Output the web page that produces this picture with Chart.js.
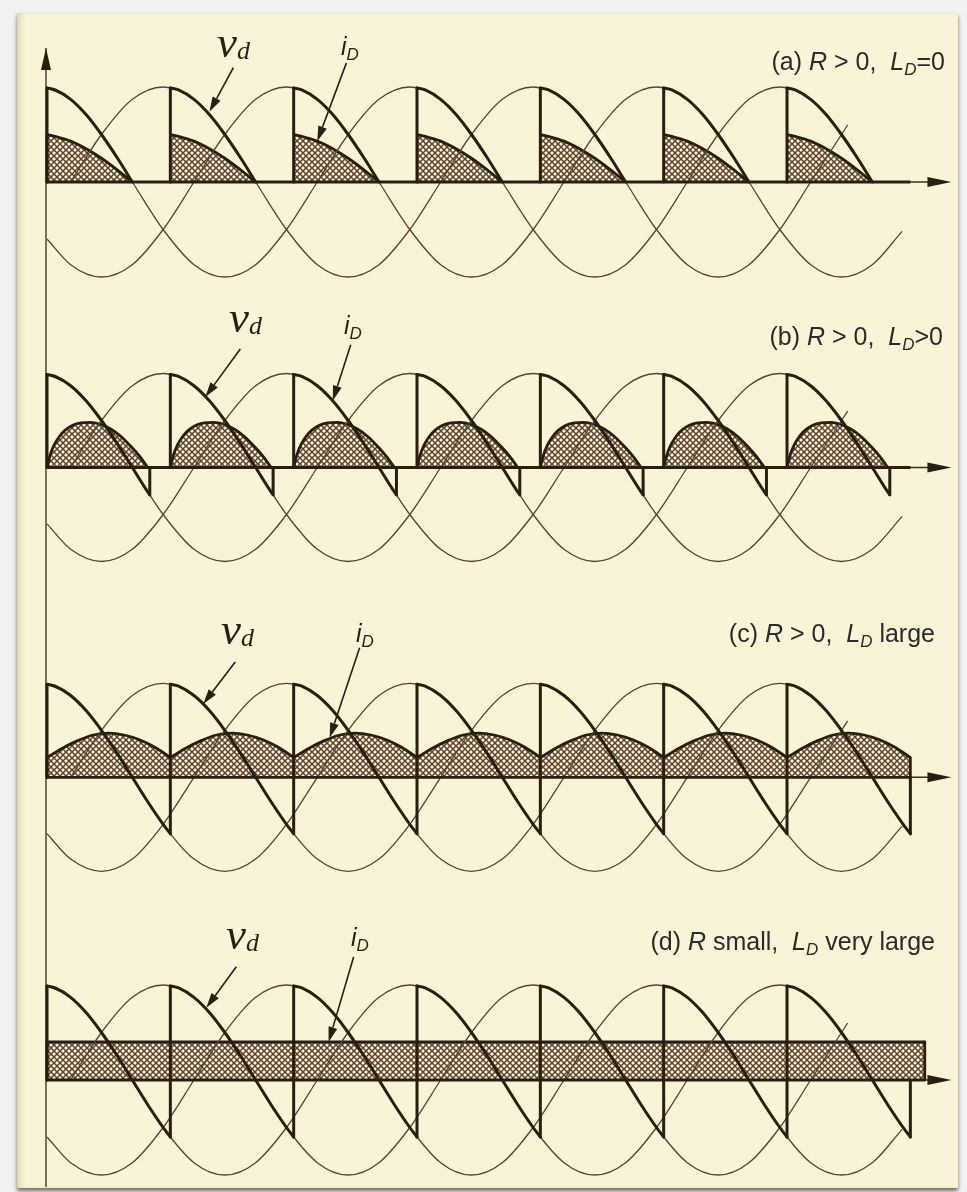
<!DOCTYPE html>
<html>
<head>
<meta charset="utf-8">
<title>Rectifier output voltage and current</title>
<script src="https://cdn.jsdelivr.net/npm/chart.js@4.4.1/dist/chart.umd.min.js"></script>
<style>
  html, body { margin: 0; padding: 0; background: #fff; }
  #page { position: relative; width: 967px; height: 1192px; overflow: hidden; background: #f2f2f2; }
  #frame {
    position: absolute; left: 17px; top: 13px; width: 941px; height: 1175px;
    background: #f9f3d8;
    box-shadow: 0 3px 4px rgba(0, 0, 0, .55), inset 5px 0 6px -3px rgba(140, 130, 70, .35);
  }
  canvas.panel { position: absolute; left: 0; }
  .lbl { position: absolute; white-space: nowrap; line-height: 1; color: #2b2b2b; }
  .case { font-family: "Liberation Sans", Arial, sans-serif; font-size: 25px; }
  .case i { font-style: italic; }
  .case sub { font-size: 17px; font-style: italic; vertical-align: -5px; line-height: 1; }
  .vd { font-family: "Liberation Serif", "Times New Roman", serif; font-style: italic; font-size: 45px; color: #2a1f16; }
  .vd sub { font-size: 26px; vertical-align: -2px; line-height: 1; }
  .id { font-family: "Liberation Sans", Arial, sans-serif; font-style: italic; font-size: 25px; color: #2a1f16; }
  .id sub { font-size: 17px; vertical-align: -5px; line-height: 1; }
</style>
</head>
<body>
<div id="page">
  <div id="frame"></div>
  <canvas id="pa" class="panel" width="967" height="320" style="top:0px"></canvas>
  <canvas id="pb" class="panel" width="967" height="300" style="top:320px"></canvas>
  <canvas id="pc" class="panel" width="967" height="305" style="top:620px"></canvas>
  <canvas id="pd" class="panel" width="967" height="267" style="top:925px"></canvas>

  <div class="lbl vd" style="left:217px; top:20px">v<sub>d</sub></div>
  <div class="lbl id" style="left:341px; top:34px">i<sub>D</sub></div>
  <div class="lbl case" style="right:22px; top:49px">(a) <i>R</i> &gt; 0,&nbsp; <i>L</i><sub>D</sub>=0</div>

  <div class="lbl vd" style="left:229px; top:295px">v<sub>d</sub></div>
  <div class="lbl id" style="left:344px; top:313px">i<sub>D</sub></div>
  <div class="lbl case" style="right:24px; top:324px">(b) <i>R</i> &gt; 0,&nbsp; <i>L</i><sub>D</sub>&gt;0</div>

  <div class="lbl vd" style="left:221px; top:607px">v<sub>d</sub></div>
  <div class="lbl id" style="left:356px; top:621px">i<sub>D</sub></div>
  <div class="lbl case" style="right:32px; top:621px">(c) <i>R</i> &gt; 0,&nbsp; <i>L</i><sub>D</sub> large</div>

  <div class="lbl vd" style="left:226px; top:912px">v<sub>d</sub></div>
  <div class="lbl id" style="left:351px; top:925px">i<sub>D</sub></div>
  <div class="lbl case" style="right:32px; top:929px">(d) <i>R</i> small,&nbsp; <i>L</i><sub>D</sub> very large</div>
</div>

<script>
// angles in electrical degrees, measured from the first firing instant
const firing = [0, 120, 240, 360, 480, 600, 720];

// the three supply phases as [angle, value], value in units of the crest
const phaseA = [[0, 0.99], [23, 0.87], [53, 0.5], [83, 0], [113, -0.5], [143, -0.87], [173, -1],
  [203, -0.87], [233, -0.5], [263, 0], [293, 0.5], [323, 0.87], [353, 1], [383, 0.87], [413, 0.5],
  [443, 0], [473, -0.5], [503, -0.87], [533, -1], [563, -0.87], [593, -0.5], [623, 0], [653, 0.5],
  [683, 0.87], [713, 1], [743, 0.87], [773, 0.5], [803, 0]];
const phaseB = [[23, 0], [53, 0.5], [83, 0.87], [113, 1], [143, 0.87], [173, 0.5], [203, 0],
  [233, -0.5], [263, -0.87], [293, -1], [323, -0.87], [353, -0.5], [383, 0], [413, 0.5], [443, 0.87],
  [473, 1], [503, 0.87], [533, 0.5], [563, 0], [593, -0.5], [623, -0.87], [653, -1], [683, -0.87],
  [713, -0.5], [743, 0], [773, 0.5], [779, 0.6]];
const phaseC = [[0, -0.6], [23, -0.87], [53, -1], [83, -0.87], [113, -0.5], [143, 0], [173, 0.5],
  [203, 0.87], [233, 1], [263, 0.87], [293, 0.5], [323, 0], [353, -0.5], [383, -0.87], [413, -1],
  [443, -0.87], [473, -0.5], [503, 0], [533, 0.5], [563, 0.87], [593, 1], [623, 0.87], [653, 0.5],
  [683, 0], [713, -0.5], [743, -0.87], [773, -1], [803, -0.87], [832, -0.52]];

// v_d over one conduction interval, angle counted from its firing instant
const vdA = [[0, 0.99], [8, 0.97], [23, 0.87], [38, 0.71], [53, 0.5], [68, 0.26], [83, 0]];
const vdB = [[0, 0.99], [8, 0.97], [23, 0.87], [38, 0.71], [53, 0.5], [68, 0.26], [83, 0], [98, -0.26], [100, -0.29]];
const vdC = [[0, 0.99], [8, 0.97], [23, 0.87], [38, 0.71], [53, 0.5], [68, 0.26], [83, 0], [98, -0.26], [113, -0.5], [120, -0.6]];

// diode current over one interval
const idA = [[0, 0.5], [8, 0.48], [23, 0.43], [38, 0.35], [53, 0.25], [68, 0.13], [83, 0]];
const idB = [[0, 0], [3, 0.13], [7, 0.24], [12, 0.33], [18, 0.4], [25, 0.45], [33, 0.475], [42, 0.48],
  [52, 0.46], [62, 0.41], [72, 0.33], [82, 0.22], [90, 0.12], [98, 0]];
const idC = [[0, 0.21], [15, 0.31], [30, 0.39], [45, 0.45], [60, 0.47], [75, 0.45], [90, 0.4], [105, 0.32], [120, 0.21]];
// (d): current stays flat for the whole run
const idD = [[0, 0.4], [854, 0.4]];

// where the heavy zero line stops in each case
const baseEnd = { a: 840, b: 840, c: 840, d: 854 };

const INK = '#2a1d12';
const THIN = '#544532';

function hatch() {
  const c = document.createElement('canvas');
  c.width = 6; c.height = 6;
  const g = c.getContext('2d');
  g.fillStyle = '#faf0d6';
  g.fillRect(0, 0, 6, 6);
  g.strokeStyle = '#5a4431';
  g.lineWidth = 1.5;
  g.beginPath();
  g.moveTo(-1, -1); g.lineTo(7, 7);
  g.moveTo(7, -1); g.lineTo(-1, 7);
  g.stroke();
  return g.createPattern(c, 'repeat');
}

const pts = arr => arr.map(([x, y]) => ({ x, y }));
const gap = x => ({ x, y: null });

// repeat a one-interval shape at every firing instant, splitting with gaps
function perFiring(shape) {
  const out = [];
  firing.forEach(f => {
    shape.forEach(([t, v]) => out.push({ x: f + t, y: v }));
    out.push(gap(f + shape[shape.length - 1][0]));
  });
  return out;
}

// straight pieces of v_d: commutation jumps, drops to zero, and the closing edge
function vdStraights(shape) {
  const out = [];
  const last = shape[shape.length - 1];
  const stopsEarly = last[0] < 120;
  firing.forEach((f, i) => {
    const from = (i === 0 || stopsEarly) ? 0 : last[1];
    out.push({ x: f, y: from }, { x: f, y: shape[0][1] }, gap(f));
    if (stopsEarly && last[1] !== 0) {
      out.push({ x: f + last[0], y: last[1] }, { x: f + last[0], y: 0 }, gap(f + last[0]));
    }
  });
  if (!stopsEarly) {
    const end = firing[firing.length - 1] + last[0];
    out.push({ x: end, y: last[1] }, { x: end, y: 0 });
  }
  return out;
}

// vertical edges where the current block starts or ends away from zero
function idEdges(data) {
  const real = data.filter(p => p.y !== null);
  const out = [];
  const first = real[0], end = real[real.length - 1];
  if (first.y !== 0) out.push({ x: first.x, y: 0 }, { x: first.x, y: first.y }, gap(first.x));
  if (end.y !== 0) out.push({ x: end.x, y: 0 }, { x: end.x, y: end.y }, gap(end.x));
  return out;
}

// axis lines and label pointers
const panelDecor = {
  id: 'panelDecor',
  beforeDatasetsDraw(chart, args, o) {
    const { ctx } = chart;
    const xs = chart.scales.x, ys = chart.scales.y;
    const x0 = xs.getPixelForValue(0) - 1;
    const y0 = ys.getPixelForValue(0);
    ctx.save();
    // vertical axis
    ctx.strokeStyle = '#6f6048';
    ctx.lineWidth = 1.8;
    ctx.beginPath();
    ctx.moveTo(x0, o.axisFrom);
    ctx.lineTo(x0, o.axisTo);
    ctx.stroke();
    if (o.arrowUp) {
      ctx.fillStyle = '#2a1d12';
      ctx.beginPath();
      ctx.moveTo(x0, o.axisFrom);
      ctx.lineTo(x0 - 5, o.axisFrom + 22);
      ctx.lineTo(x0 + 5, o.axisFrom + 22);
      ctx.closePath();
      ctx.fill();
    }
    // horizontal axis with arrow
    const xt = xs.getPixelForValue(o.axisTip);
    ctx.strokeStyle = '#3a2c1e';
    ctx.lineWidth = 1.6;
    ctx.beginPath();
    ctx.moveTo(x0, y0);
    ctx.lineTo(xt - 10, y0);
    ctx.stroke();
    ctx.fillStyle = '#2a1d12';
    ctx.beginPath();
    ctx.moveTo(xt, y0);
    ctx.lineTo(xt - 24, y0 - 5);
    ctx.lineTo(xt - 24, y0 + 5);
    ctx.closePath();
    ctx.fill();
    ctx.restore();
  },
  afterDatasetsDraw(chart, args, o) {
    const { ctx } = chart;
    const xs = chart.scales.x, ys = chart.scales.y;
    ctx.save();
    ctx.strokeStyle = INK;
    ctx.fillStyle = INK;
    ctx.lineWidth = 1.6;
    (o.pointers || []).forEach(p => {
      const tx = xs.getPixelForValue(p.tip[0]), ty = ys.getPixelForValue(p.tip[1]);
      const sx = tx + p.tail[0], sy = ty + p.tail[1];
      const a = Math.atan2(ty - sy, tx - sx);
      const len = 15, w = 4.5;
      const bx = tx - len * Math.cos(a), by = ty - len * Math.sin(a);
      ctx.beginPath();
      ctx.moveTo(sx, sy);
      ctx.lineTo(bx, by);
      ctx.stroke();
      ctx.beginPath();
      ctx.moveTo(tx, ty);
      ctx.lineTo(bx + w * Math.sin(a), by - w * Math.cos(a));
      ctx.lineTo(bx - w * Math.sin(a), by + w * Math.cos(a));
      ctx.closePath();
      ctx.fill();
    });
    ctx.restore();
  }
};

const PX_PER_DEG = 1.0278;   // 120 degrees between firings
const ORIGIN_PX = 47;
const pattern = hatch();

function drawPanel(canvasId, geo, vdShape, idData, end, decor) {
  const el = document.getElementById(canvasId);
  const W = el.width, H = el.height;
  const yMax = geo.axisY / geo.amp;
  const yMin = -(H - geo.axisY) / geo.amp;

  const thin = (data) => ({
    data: pts(data), borderColor: THIN, borderWidth: 1.3, fill: false,
    cubicInterpolationMode: 'monotone', order: 3
  });

  const datasets = [
    { label: 'v_d straight', data: vdStraights(vdShape), borderColor: INK, borderWidth: 3,
      borderCapStyle: 'round', borderJoinStyle: 'round', tension: 0, fill: false, order: 0 },
    { label: 'v_d', data: perFiring(vdShape), borderColor: INK, borderWidth: 3,
      borderCapStyle: 'round', cubicInterpolationMode: 'monotone', fill: false, order: 1 },
    { label: 'i_D edges', data: idEdges(idData), borderColor: INK, borderWidth: 2.8,
      borderCapStyle: 'round', tension: 0, fill: false, order: 1 },
    { label: 'zero', data: [{ x: 0, y: 0 }, { x: end, y: 0 }], borderColor: INK, borderWidth: 2.8,
      tension: 0, fill: false, order: 2 },
    Object.assign(thin(phaseA), { label: 'phase a' }),
    Object.assign(thin(phaseB), { label: 'phase b' }),
    Object.assign(thin(phaseC), { label: 'phase c' }),
    { label: 'i_D', data: idData, borderColor: INK, borderWidth: 2.8, backgroundColor: pattern,
      fill: 'origin', cubicInterpolationMode: 'monotone', borderJoinStyle: 'round', order: 4 }
  ];

  return new Chart(el, {
    type: 'line',
    data: { datasets },
    options: {
      responsive: false,
      animation: false,
      devicePixelRatio: 1,
      events: [],
      layout: { padding: 0 },
      elements: { point: { radius: 0 } },
      scales: {
        x: { type: 'linear', display: false, min: -ORIGIN_PX / PX_PER_DEG, max: (W - ORIGIN_PX) / PX_PER_DEG },
        y: { type: 'linear', display: false, min: yMin, max: yMax }
      },
      plugins: {
        legend: { display: false },
        tooltip: { enabled: false },
        panelDecor: Object.assign({ axisTip: 880, axisFrom: 0, axisTo: H, arrowUp: false }, decor)
      }
    },
    plugins: [panelDecor]
  });
}

drawPanel('pa', { axisY: 182, amp: 95 }, vdA, perFiring(idA), baseEnd.a, {
  axisFrom: 48, arrowUp: true,
  pointers: [{ tip: [158, 0.74], tail: [24, -44] }, { tip: [263, 0.43], tail: [29, -78] }]
});
drawPanel('pb', { axisY: 147.5, amp: 94 }, vdB, perFiring(idB), baseEnd.b, {
  pointers: [{ tip: [154, 0.75], tail: [35, -48] }, { tip: [278, 0.71], tail: [18, -56] }]
});
drawPanel('pc', { axisY: 157.3, amp: 94 }, vdC, perFiring(idC), baseEnd.c, {
  pointers: [{ tip: [152, 0.78], tail: [32, -42] }, { tip: [275, 0.42], tail: [30, -90] }]
});
drawPanel('pd', { axisY: 155, amp: 95 }, vdC, pts(idD), baseEnd.d, {
  axisTo: 262,
  pointers: [{ tip: [155, 0.76], tail: [30, -41] }, { tip: [274, 0.4], tail: [25, -85] }]
});
</script>
</body>
</html>
